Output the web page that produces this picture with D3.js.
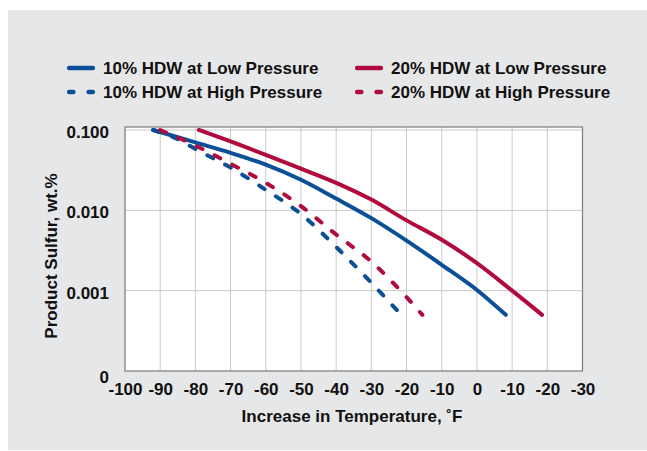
<!DOCTYPE html>
<html>
<head>
<meta charset="utf-8">
<script src="https://cdn.jsdelivr.net/npm/d3@7"></script>
<style>
  body { margin: 0; background: #fff; }
  text { font-family: "Liberation Sans", Arial, sans-serif; font-weight: bold; fill: #111; }
</style>
</head>
<body>
<div id="chart"></div>
<script>
// x positions are on a continuous scale; tick labels after 0 are printed as in the source
const xTickValues = [-100, -90, -80, -70, -60, -50, -40, -30, -20, -10, 0, 10, 20, 30];
const xTickLabels = ["-100", "-90", "-80", "-70", "-60", "-50", "-40", "-30", "-20", "-10", "0", "-10", "-20", "-30"];
const yTickValues = [0.0001, 0.001, 0.01, 0.1];
const yTickLabels = ["0", "0.001", "0.010", "0.100"];

const seriesNames = ["10% HDW at Low Pressure", "20% HDW at Low Pressure", "10% HDW at High Pressure", "20% HDW at High Pressure"];

const lowTemp10 = [-92, -80, -70, -60, -50, -40, -30, -20, -10, 0, 8.2];
const lowSulfur10 = [0.100, 0.070, 0.052, 0.037, 0.024, 0.0140, 0.0080, 0.0042, 0.0021, 0.00102, 0.0005];

const lowTemp20 = [-79, -70, -60, -50, -40, -30, -20, -10, 0, 10, 18.5];
const lowSulfur20 = [0.100, 0.072, 0.049, 0.033, 0.022, 0.0136, 0.0075, 0.0043, 0.0022, 0.0010, 0.0005];

const highTemp10 = [-92, -85, -80, -70, -60, -50, -40, -30, -21.5];
const highSulfur10 = [0.100, 0.077, 0.058, 0.034, 0.018, 0.0090, 0.0035, 0.00125, 0.0005];

const highTemp20 = [-90, -80, -70, -60, -50, -40, -30, -20, -15.5];
const highSulfur20 = [0.100, 0.064, 0.038, 0.022, 0.0113, 0.0050, 0.0023, 0.00083, 0.0005];

const W = 647, H = 451;
const blue = "#0b4f96", red = "#b00b3c";

const svg = d3.select("#chart").append("svg").attr("width", W).attr("height", H);

// panel
svg.append("rect").attr("x", 8).attr("y", 10).attr("width", W - 8).attr("height", H - 11).attr("fill", "#e6e7e8");

const plot = { left: 125, right: 582.5, top: 127, bottom: 371 };
const x = d3.scaleLinear().domain([-100, 30]).range([plot.left, plot.right]);
const y = d3.scaleLog().domain([0.0001, 0.109]).range([plot.bottom, plot.top]);

svg.append("rect").attr("x", plot.left).attr("y", plot.top)
  .attr("width", plot.right - plot.left).attr("height", plot.bottom - plot.top).attr("fill", "#fff");

// grid
const grid = svg.append("g").attr("stroke", "#c9c9c9").attr("stroke-width", 1);
xTickValues.slice(1, -1).forEach(v => {
  grid.append("line").attr("x1", x(v)).attr("x2", x(v)).attr("y1", plot.top).attr("y2", plot.bottom);
});
yTickValues.slice(1).forEach(v => {
  grid.append("line").attr("x1", plot.left).attr("x2", plot.right).attr("y1", y(v)).attr("y2", y(v));
});

svg.append("rect").attr("x", plot.left).attr("y", plot.top)
  .attr("width", plot.right - plot.left).attr("height", plot.bottom - plot.top)
  .attr("fill", "none").attr("stroke", "#7a7a7a").attr("stroke-width", 1.2);

// axes
const xAxis = d3.axisBottom(x).tickValues(xTickValues).tickSize(0)
  .tickFormat((d, i) => xTickLabels[i]);
svg.append("g").attr("transform", `translate(0,${plot.bottom + 9})`).call(xAxis)
  .call(g => g.select(".domain").remove())
  .selectAll("text").attr("font-size", 17).attr("font-family", null).attr("fill", "#111");

const yAxis = d3.axisLeft(y).tickValues(yTickValues).tickSize(0)
  .tickFormat((d, i) => yTickLabels[i]);
svg.append("g").attr("transform", `translate(${plot.left - 13},0)`).call(yAxis)
  .call(g => g.select(".domain").remove())
  .selectAll("text").attr("font-size", 17).attr("font-family", null).attr("fill", "#111")
  .attr("dy", (d, i) => i === 0 ? "0.65em" : "0.45em");

svg.append("text").attr("x", 352).attr("y", 422)
  .attr("text-anchor", "middle").attr("font-size", 17).text("Increase in Temperature, ˚F");
svg.append("text").attr("transform", `translate(57,256) rotate(-90)`)
  .attr("text-anchor", "middle").attr("font-size", 17).text("Product Sulfur, wt.%");

// lines
const series = [
  { name: seriesNames[0], xs: lowTemp10, ys: lowSulfur10, color: blue, dash: null },
  { name: seriesNames[1], xs: lowTemp20, ys: lowSulfur20, color: red, dash: null },
  { name: seriesNames[2], xs: highTemp10, ys: highSulfur10, color: blue, dash: "6.5,13.5" },
  { name: seriesNames[3], xs: highTemp20, ys: highSulfur20, color: red, dash: "6.5,13.5" }
];
const line = d3.line().x(d => x(d[0])).y(d => y(d[1])).curve(d3.curveMonotoneX);
series.forEach(s => {
  svg.append("path").datum(s.xs.map((v, i) => [v, s.ys[i]]))
    .attr("d", line).attr("fill", "none").attr("stroke", s.color)
    .attr("stroke-width", 4).attr("stroke-linecap", "round")
    .attr("stroke-dasharray", s.dash);
});

// legend
const legendPos = [[67, 68], [355, 68], [67, 92], [355, 92]];
series.forEach((s, i) => {
  const [lx, ly] = legendPos[i];
  const g = svg.append("g").attr("transform", `translate(${lx},${ly})`);
  g.append("line").attr("x1", 2).attr("x2", 26).attr("y1", 0).attr("y2", 0)
    .attr("stroke", s.color).attr("stroke-width", 4.3).attr("stroke-linecap", "round")
    .attr("stroke-dasharray", s.dash ? "4.5,15" : null);
  g.append("text").attr("x", 36).attr("y", 0).attr("dy", "0.36em")
    .attr("font-size", 17).text(s.name);
});
</script>
</body>
</html>
